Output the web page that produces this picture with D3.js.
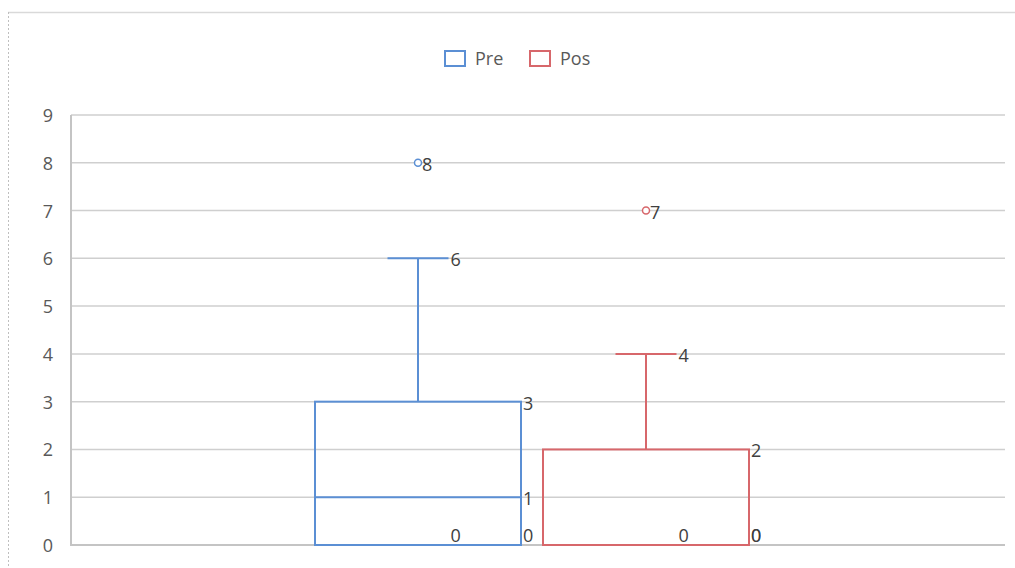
<!DOCTYPE html>
<html>
<head>
<meta charset="utf-8">
<script src="https://cdn.jsdelivr.net/npm/d3@7"></script>
<style>
  html, body { margin: 0; padding: 0; background: #fff; }
  svg { display: block; font-family: "Open Sans", "Liberation Sans", sans-serif; }
</style>
</head>
<body>
<svg id="chart" width="1015" height="568"></svg>
<script>
// Box plot statistics per series
const series   = ["Pre", "Pos"];
const colors   = ["#5b8fd4", "#d7676b"];
const whiskMin = [0, 0];
const q1       = [0, 0];
const median   = [1, 0];
const q3       = [3, 2];
const whiskMax = [6, 4];
const outliers = [[8], [7]];
const yTicks   = [0, 1, 2, 3, 4, 5, 6, 7, 8, 9];

const svg = d3.select("#chart");
const W = 1015, H = 568;
const plot = { left: 71, right: 1005, top: 115, bottom: 545 };

// Outer chart frame (top edge and dashed left edge)
svg.append("line").attr("x1", 8).attr("x2", W).attr("y1", 12.5).attr("y2", 12.5)
  .attr("stroke", "#d9d9d9").attr("stroke-width", 1.5);
svg.append("line").attr("x1", 8.5).attr("x2", 8.5).attr("y1", 12).attr("y2", H)
  .attr("stroke", "#bfbfbf").attr("stroke-width", 1).attr("stroke-dasharray", "2,2");

const y = d3.scaleLinear().domain([0, 9]).range([plot.bottom, plot.top]);
const x = d3.scaleBand().domain(series).range([315, 749]).paddingInner(0.0965).paddingOuter(0);

// Gridlines
svg.append("g").selectAll("line").data(yTicks.filter(d => d > 0)).join("line")
  .attr("x1", plot.left).attr("x2", plot.right)
  .attr("y1", d => y(d)).attr("y2", d => y(d))
  .attr("stroke", "#cfcfcf").attr("stroke-width", 1.5);

// Y axis
const yAxis = d3.axisLeft(y).tickValues(yTicks).tickSize(0).tickPadding(0).tickFormat(d3.format("d"));
const gy = svg.append("g").attr("transform", `translate(${plot.left},0)`).call(yAxis);
gy.select(".domain").remove();
gy.selectAll("text").attr("x", -18).attr("dy", "0.36em").attr("font-size", 18).attr("fill", "#595959")
  .attr("font-family", "'Open Sans', sans-serif");
svg.append("path")
  .attr("d", `M${plot.left},${plot.top} V${plot.bottom} H${plot.right}`)
  .attr("fill", "none").attr("stroke", "#c4c4c4").attr("stroke-width", 2);

// Boxes, whiskers, outliers
const capHalf = 30.5;
const labels = [];
series.forEach((s, i) => {
  const g = svg.append("g");
  const c = colors[i];
  const x0 = x(s), bw = x.bandwidth(), cx = x0 + bw / 2;

  // upper whisker
  g.append("line").attr("x1", cx).attr("x2", cx).attr("y1", y(q3[i])).attr("y2", y(whiskMax[i]))
    .attr("stroke", c).attr("stroke-width", 2);
  g.append("line").attr("x1", cx - capHalf).attr("x2", cx + capHalf)
    .attr("y1", y(whiskMax[i])).attr("y2", y(whiskMax[i])).attr("stroke", c).attr("stroke-width", 2);
  // lower whisker
  g.append("line").attr("x1", cx).attr("x2", cx).attr("y1", y(q1[i])).attr("y2", y(whiskMin[i]))
    .attr("stroke", c).attr("stroke-width", 2);
  g.append("line").attr("x1", cx - capHalf).attr("x2", cx + capHalf)
    .attr("y1", y(whiskMin[i])).attr("y2", y(whiskMin[i])).attr("stroke", c).attr("stroke-width", 2);
  // box
  g.append("rect").attr("x", x0).attr("y", y(q3[i]))
    .attr("width", bw).attr("height", y(q1[i]) - y(q3[i]))
    .attr("fill", "none").attr("stroke", c).attr("stroke-width", 2);
  // median
  g.append("line").attr("x1", x0).attr("x2", x0 + bw)
    .attr("y1", y(median[i])).attr("y2", y(median[i])).attr("stroke", c).attr("stroke-width", 2);
  // outliers
  outliers[i].forEach(v => {
    g.append("circle").attr("cx", cx).attr("cy", y(v)).attr("r", 3.5)
      .attr("fill", "#fff").attr("stroke", c).attr("stroke-width", 1.5);
    labels.push({ x: cx + 4, v });
  });

  labels.push({ x: cx + capHalf + 2, v: whiskMax[i] });
  labels.push({ x: cx + capHalf + 2, v: whiskMin[i] });
  labels.push({ x: x0 + bw + 2, v: q3[i] });
  labels.push({ x: x0 + bw + 2, v: median[i] });
  labels.push({ x: x0 + bw + 2, v: q1[i] });
});

// Value labels
svg.append("g").selectAll("text").data(labels).join("text")
  .attr("x", d => d.x)
  .attr("y", d => Math.min(y(d.v) + 8, plot.bottom - 3))
  .attr("font-size", 18).attr("fill", "#404040")
  .text(d => d.v);

// Legend
const legend = svg.append("g");
const legX = [445, 530];
series.forEach((s, i) => {
  legend.append("rect").attr("x", legX[i]).attr("y", 51).attr("width", 20).attr("height", 15)
    .attr("fill", "#fff").attr("stroke", colors[i]).attr("stroke-width", 2);
  legend.append("text").attr("x", legX[i] + 30).attr("y", 65)
    .attr("font-size", 18).attr("fill", "#595959").text(s);
});
</script>
</body>
</html>
